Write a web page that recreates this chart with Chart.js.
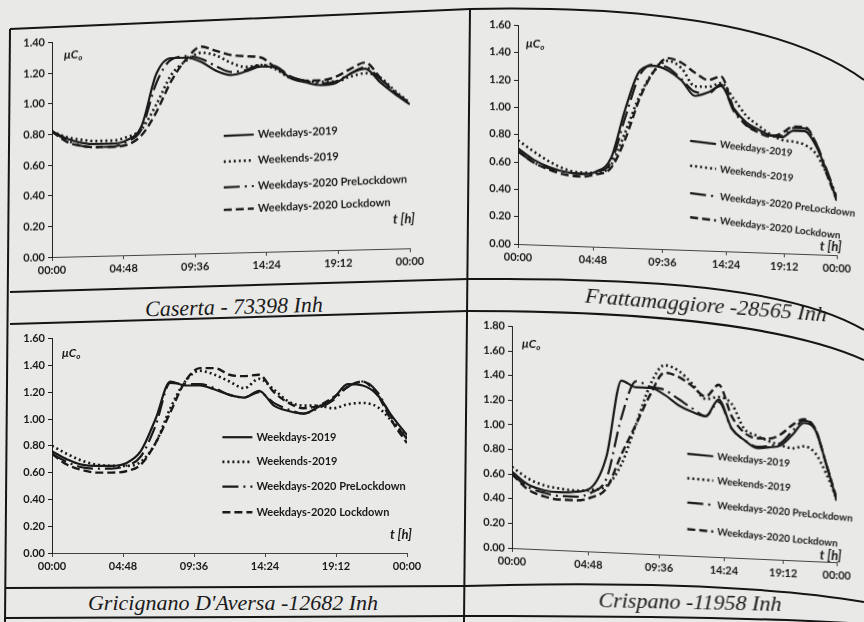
<!DOCTYPE html>
<html>
<head>
<meta charset="utf-8">
<script src="https://cdn.jsdelivr.net/npm/chart.js@4.4.1/dist/chart.umd.min.js"></script>
<style>
body{margin:0;width:864px;height:622px;overflow:hidden;position:relative;background:#e9e9e7}
canvas{position:absolute}
svg{position:absolute;left:0;top:0}
.cap{position:absolute;font:italic 22px "Liberation Serif",serif;color:#1a1a1a;white-space:nowrap}
</style>
</head>
<body>
<svg width="864" height="622">
  <g fill="none" stroke="#151515" stroke-width="2">
    <path d="M10,29 L470,9 C650,5 790,26 864,80"/>
    <path d="M10,29 L5,622"/>
    <path d="M470,9 L464,622"/>
    <path d="M10,292 L468,279"/>
    <path d="M10,324 L468,311"/>
    <path d="M468,279 C600,279 780,280 864,330"/>
    <path d="M468,311 C620,311 780,322 864,360"/>
    <path d="M6,588 L465,586"/>
    <path d="M5,618 L463,616"/>
    <path d="M465,586 C600,582 760,584 864,602"/>
    <path d="M463,616 C650,616 780,618 864,624"/>
  </g>
</svg>
<canvas id="c1" width="422" height="250" style="left:12px;top:33px"></canvas>
<canvas id="c2" width="386" height="254" style="left:478px;top:16px"></canvas>
<canvas id="c3" width="419" height="250" style="left:12px;top:329px"></canvas>
<canvas id="c4" width="392" height="257" style="left:472px;top:317px"></canvas>
<div class="cap" id="t1" style="left:234px;top:307px;transform:translate(-50%,-50%) rotate(-1.5deg)"></div>
<div class="cap" id="t2" style="left:706px;top:305px;transform:translate(-50%,-50%) rotate(4.5deg)"></div>
<div class="cap" id="t3" style="left:233px;top:603px;transform:translate(-50%,-50%)"></div>
<div class="cap" id="t4" style="left:690px;top:602px;transform:translate(-50%,-50%) rotate(1.2deg)"></div>
<script>
// hours of the day (x values) and the axis ticks
const hours = [0,1,2,3,4,5,6,7,8,9,10,11,12,13,14,15,16,17,18,19,20,21,22,23,24];
const tickHours = [0, 4.8, 9.6, 14.4, 19.2, 24];
const tickLabels = ['00:00','04:48','09:36','14:24','19:12','00:00'];
const seriesNames = ['Weekdays-2019','Weekends-2019','Weekdays-2020 PreLockdown','Weekdays-2020 Lockdown'];
const cityNames = ['Caserta -  73398 Inh','Frattamaggiore -28565 Inh',"Gricignano D'Aversa -12682 Inh",'Crispano -11958 Inh'];

// Caserta
const casertaWd19 = [0.82,0.77,0.74,0.73,0.73,0.75,0.84,1.18,1.28,1.28,1.25,1.19,1.16,1.18,1.21,1.20,1.13,1.10,1.08,1.09,1.15,1.18,1.09,1.01,0.94];
const casertaWe19 = [0.82,0.78,0.76,0.75,0.75,0.77,0.82,0.98,1.17,1.26,1.31,1.29,1.24,1.21,1.22,1.19,1.13,1.11,1.10,1.10,1.13,1.15,1.12,1.03,0.95];
const casertaPre20 = [0.82,0.76,0.72,0.71,0.71,0.74,0.82,1.12,1.27,1.29,1.27,1.22,1.18,1.19,1.22,1.21,1.14,1.11,1.09,1.10,1.15,1.19,1.11,1.02,0.95];
const casertaLock20 = [0.82,0.75,0.72,0.71,0.71,0.72,0.78,0.93,1.13,1.27,1.35,1.32,1.29,1.28,1.27,1.20,1.14,1.11,1.11,1.13,1.18,1.22,1.12,1.02,0.94];

// Frattamaggiore
const frattaWd19 = [0.70,0.62,0.57,0.54,0.53,0.55,0.65,1.02,1.30,1.34,1.31,1.24,1.13,1.16,1.21,1.05,0.95,0.90,0.86,0.85,0.90,0.90,0.80,0.62,0.40];
const frattaWe19 = [0.76,0.68,0.61,0.56,0.54,0.54,0.60,0.85,1.12,1.30,1.38,1.33,1.20,1.20,1.23,1.12,1.00,0.93,0.87,0.83,0.82,0.80,0.74,0.60,0.42];
const frattaPre20 = [0.68,0.60,0.56,0.54,0.53,0.55,0.62,0.96,1.27,1.35,1.33,1.25,1.16,1.15,1.22,1.03,0.93,0.89,0.86,0.86,0.92,0.92,0.82,0.63,0.42];
const frattaLock20 = [0.68,0.60,0.55,0.52,0.51,0.53,0.58,0.80,1.10,1.30,1.40,1.37,1.30,1.25,1.28,1.05,0.93,0.88,0.85,0.88,0.93,0.93,0.82,0.60,0.40];

// Gricignano D'Aversa
const gricWd19 = [0.76,0.70,0.66,0.65,0.65,0.67,0.76,1.00,1.28,1.25,1.25,1.22,1.18,1.16,1.21,1.10,1.06,1.04,1.09,1.15,1.26,1.25,1.18,1.02,0.88];
const gricWe19 = [0.80,0.74,0.69,0.66,0.65,0.65,0.68,0.82,1.08,1.28,1.36,1.33,1.28,1.23,1.30,1.22,1.13,1.10,1.10,1.08,1.11,1.12,1.09,0.98,0.86];
const gricPre20 = [0.74,0.68,0.64,0.63,0.63,0.65,0.72,0.95,1.27,1.26,1.26,1.23,1.18,1.16,1.20,1.12,1.07,1.04,1.08,1.14,1.24,1.28,1.20,1.00,0.85];
const gricLock20 = [0.74,0.66,0.62,0.60,0.60,0.61,0.66,0.82,1.05,1.28,1.38,1.38,1.33,1.32,1.33,1.20,1.12,1.08,1.10,1.16,1.24,1.28,1.18,0.98,0.82];

// Crispano
const crispWd19 = [0.62,0.52,0.48,0.47,0.48,0.52,0.78,1.40,1.35,1.35,1.30,1.22,1.17,1.14,1.28,1.05,0.96,0.90,0.91,0.93,1.02,1.12,1.07,0.80,0.50];
const crispWe19 = [0.66,0.57,0.52,0.50,0.49,0.50,0.54,0.72,1.05,1.38,1.54,1.50,1.40,1.28,1.30,1.25,1.05,1.00,0.96,0.93,0.91,0.93,0.88,0.72,0.52];
const crispPre20 = [0.60,0.50,0.46,0.44,0.44,0.48,0.60,1.10,1.40,1.36,1.34,1.27,1.20,1.14,1.26,1.05,0.96,0.91,0.92,0.95,1.05,1.14,1.08,0.80,0.50];
const crispLock20 = [0.60,0.48,0.43,0.41,0.41,0.44,0.52,0.80,1.05,1.30,1.48,1.45,1.38,1.30,1.40,1.15,1.02,0.98,0.98,1.02,1.10,1.15,1.08,0.80,0.52];

const ink = '#1a1a1a';
const lineDash = [[], [2,3], [16,5,2,5], [8,4]];
const lineWidth = [2.2, 2.6, 2.2, 2.4];

Chart.defaults.font.family = 'Lato';
Chart.defaults.color = ink;

// linear axis squeezed towards its right end (the page bends away in the photo)
class BentScale extends Chart.LinearScale {
  getPixelForValue(value) {
    const b = this.options.bend || 0;
    const t = (value - this.min) / (this.max - this.min);
    return this.left + this.width * t * (1 + b * (1 - t));
  }
  getValueForPixel(pixel) {
    const b = this.options.bend || 0;
    const u = (pixel - this.left) / this.width;
    const t = b ? ((1 + b) - Math.sqrt((1 + b) * (1 + b) - 4 * b * u)) / (2 * b) : u;
    return this.min + t * (this.max - this.min);
  }
}
BentScale.id = 'bent';
BentScale.defaults = Chart.LinearScale.defaults;
Chart.register(BentScale);

// legend, μCo and t[h] drawn inside the plot area
const inlineLegend = {
  id: 'inlineLegend',
  afterDatasetsDraw(chart, args, opts) {
    const a = chart.chartArea, ctx = chart.ctx;
    const w = a.right - a.left, h = a.bottom - a.top;
    const x0 = a.left + opts.x * w;
    ctx.save();
    ctx.textBaseline = 'middle';
    ctx.font = 'bold ' + opts.size + 'px Lato';
    ctx.fillStyle = ink;
    chart.data.datasets.forEach((ds, i) => {
      const y = a.top + opts.y[i] * h;
      ctx.save();
      ctx.translate(x0, y);
      ctx.rotate(opts.rot * Math.PI / 180);
      ctx.strokeStyle = ds.borderColor;
      ctx.lineWidth = ds.borderWidth;
      ctx.setLineDash(ds.borderDash);
      ctx.beginPath();
      ctx.moveTo(0, 0);
      ctx.lineTo(opts.len, 0);
      ctx.stroke();
      ctx.fillText(ds.label, opts.len + 4, 0);
      ctx.restore();
    });
    ctx.font = 'italic bold 12px Lato';
    ctx.fillText('μC', a.left + opts.mu[0], a.top + opts.mu[1]);
    const mw = ctx.measureText('μC').width;
    ctx.font = 'italic bold 8px Lato';
    ctx.fillText('o', a.left + opts.mu[0] + mw, a.top + opts.mu[1] + 3);
    ctx.font = 'italic bold 13px Lato';
    ctx.textAlign = 'right';
    ctx.fillText('t [h]', a.right + 5, a.bottom - opts.t);
    ctx.restore();
  }
};

function drawPanel(id, capId, name, series, yMax, legend, skew, bend, padRight) {
  const canvas = document.getElementById(id);
  canvas.style.transformOrigin = '40px ' + (canvas.height - 26) + 'px';
  canvas.style.transform = 'skewY(' + skew + 'deg)';
  document.getElementById(capId).textContent = name;
  new Chart(canvas, {
    type: 'line',
    data: {
      datasets: series.map((vals, i) => ({
        label: seriesNames[i],
        data: hours.map((hr, j) => ({x: hr, y: vals[j]})),
        borderColor: ink,
        borderWidth: lineWidth[i],
        borderDash: lineDash[i],
        pointRadius: 0,
        fill: false,
        cubicInterpolationMode: 'monotone'
      }))
    },
    options: {
      responsive: false,
      animation: false,
      devicePixelRatio: 1,
      layout: {padding: {top: 8, right: padRight, left: 0, bottom: 0}},
      plugins: {
        legend: {display: false},
        tooltip: {enabled: false},
        inlineLegend: legend
      },
      scales: {
        x: {
          type: 'bent', bend: bend, min: 0, max: 24,
          afterFit: s => { s.height = 26; },
          afterBuildTicks: s => { s.ticks = tickHours.map(v => ({value: v})); },
          ticks: {
            autoSkip: false, maxRotation: 0, padding: 3,
            font: {size: 11, weight: 'bold'},
            callback: (v, i) => tickLabels[i]
          },
          grid: {drawOnChartArea: false, tickLength: 4, color: '#444'},
          border: {color: '#444', width: 1}
        },
        y: {
          min: 0, max: yMax,
          afterFit: s => { s.width = 40; },
          ticks: {
            stepSize: 0.2, padding: 3,
            font: {size: 11, weight: 'bold'},
            callback: v => v.toFixed(2)
          },
          grid: {drawOnChartArea: false, tickLength: 4, color: '#222'},
          border: {color: '#222', width: 1}
        }
      }
    },
    plugins: [inlineLegend]
  });
}

drawPanel('c1', 't1', cityNames[0], [casertaWd19, casertaWe19, casertaPre20, casertaLock20], 1.4,
  {x: 0.48, y: [0.455, 0.575, 0.695, 0.80], rot: -1.2, size: 11, len: 30, mu: [12, 13], t: 29}, -1.4, 0, 24);
drawPanel('c2', 't2', cityNames[1], [frattaWd19, frattaWe19, frattaPre20, frattaLock20], 1.6,
  {x: 0.54, y: [0.50, 0.614, 0.74, 0.85], rot: 5, size: 10, len: 26, mu: [8, 18], t: 8}, 2, 0.22, 27);
drawPanel('c3', 't3', cityNames[2], [gricWd19, gricWe19, gricPre20, gricLock20], 1.6,
  {x: 0.48, y: [0.46, 0.575, 0.69, 0.81], rot: 0, size: 11, len: 30, mu: [10, 15], t: 18}, 0, 0, 24);
drawPanel('c4', 't4', cityNames[3], [crispWd19, crispWe19, crispPre20, crispLock20], 1.8,
  {x: 0.54, y: [0.54, 0.65, 0.76, 0.88], rot: 3, size: 10, len: 26, mu: [10, 17], t: 6}, 2.5, 0.22, 27);
</script>
</body>
</html>
